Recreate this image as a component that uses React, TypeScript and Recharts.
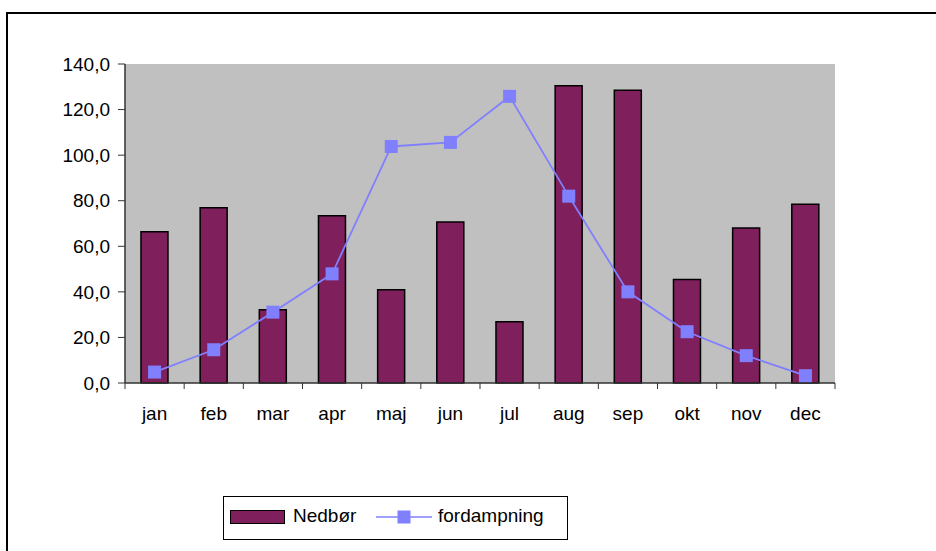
import React from 'react';
import {
  ComposedChart, Bar, Line, XAxis, YAxis, CartesianGrid,
} from 'recharts';

const months = ['jan', 'feb', 'mar', 'apr', 'maj', 'jun', 'jul', 'aug', 'sep', 'okt', 'nov', 'dec'];
const nedbor = [66.4, 76.9, 32.2, 73.4, 40.9, 70.7, 26.9, 130.4, 128.5, 45.4, 68.0, 78.5];
const fordampning = [4.8, 14.6, 31.1, 47.9, 103.8, 105.6, 125.8, 82.0, 40.0, 22.5, 12.0, 3.2];
const yTicks = [0, 20, 40, 60, 80, 100, 120, 140];

const data = months.map((m, i) => ({ month: m, nedbor: nedbor[i], fordampning: fordampning[i] }));

const W = 936;
const H = 551;
const M = { top: 64, right: 101, left: 0, bottom: 128 };
const Y_AXIS_W = 125;
const X_AXIS_H = 40;
const plotW = W - M.left - M.right - Y_AXIS_W;
const step = plotW / months.length;

const BAR = '#7f1f5c';
const LINE = '#8080ff';
const FONT = '"Liberation Sans", Arial, sans-serif';

// tick y arrives already pushed down by tickSize (6) + tickMargin (2)
const MonthTick = (props: any) => {
  const { x, y, payload, index } = props;
  const top = y - 8;
  return (
    <g>
      <line x1={x - step / 2} y1={top} x2={x - step / 2} y2={top + 6} stroke="#333" strokeWidth={1} />
      {index === months.length - 1 && (
        <line x1={x + step / 2} y1={top} x2={x + step / 2} y2={top + 6} stroke="#333" strokeWidth={1} />
      )}
      <text x={x} y={y + 29} textAnchor="middle" fontSize={19} fill="#000" fontFamily={FONT}>
        {payload.value}
      </text>
    </g>
  );
};

const SquareDot = (props: any) => {
  const { cx, cy, index } = props;
  if (cx == null || cy == null) return null;
  return <rect key={`sq-${index}`} x={cx - 6.5} y={cy - 6.5} width={13} height={13} fill={LINE} />;
};

export default function App() {
  return (
    <div style={{ position: 'absolute', left: 0, top: 0, width: W, height: H, overflow: 'hidden', background: '#fff' }}>
      <div style={{ position: 'absolute', left: 6, top: 12, width: W, height: H, border: '2px solid #000' }} />
      <div style={{ position: 'absolute', left: 0, top: 0 }}>
        <ComposedChart width={W} height={H} data={data} margin={M} barCategoryGap="27%">
          <CartesianGrid fill="#c0c0c0" horizontal={false} vertical={false} />
          <XAxis
            dataKey="month"
            height={X_AXIS_H}
            axisLine={{ stroke: '#333', strokeWidth: 1.5 }}
            tickLine={false}
            tick={<MonthTick />}
            interval={0}
          />
          <XAxis xAxisId="top" orientation="top" dataKey="month" height={0} tick={false} tickLine={false} axisLine={{ stroke: '#808080', strokeWidth: 1.5 }} />
          <YAxis
            domain={[0, 140]}
            ticks={yTicks}
            width={Y_AXIS_W}
            interval={0}
            tickFormatter={(v: number) => v.toFixed(1).replace('.', ',')}
            tick={{ fontSize: 19, fill: '#000', fontFamily: FONT }}
            tickSize={7}
            tickMargin={8}
            tickLine={{ stroke: '#333' }}
            axisLine={{ stroke: '#333', strokeWidth: 1.5 }}
          />
          <YAxis yAxisId="right" orientation="right" width={0} tick={false} tickLine={false} axisLine={{ stroke: '#808080', strokeWidth: 1.5 }} />
          <Bar dataKey="nedbor" fill={BAR} stroke="#000" strokeWidth={1.5} isAnimationActive={false} />
          <Line
            dataKey="fordampning"
            stroke={LINE}
            strokeWidth={1.8}
            dot={<SquareDot />}
            activeDot={false}
            isAnimationActive={false}
          />
        </ComposedChart>
      </div>
      <div
        style={{
          position: 'absolute', left: 223, top: 496, width: 345, height: 44, boxSizing: 'border-box',
          border: '1px solid #000', fontFamily: FONT, fontSize: 19, color: '#000',
        }}
      >
        <div style={{ position: 'absolute', left: 6, top: 13, width: 55, height: 14, boxSizing: 'border-box', background: BAR, border: '1.5px solid #000' }} />
        <span style={{ position: 'absolute', left: 69, top: 8 }}>Nedbør</span>
        <svg style={{ position: 'absolute', left: 152, top: 12 }} width={58} height={16}>
          <line x1={0} y1={8} x2={56} y2={8} stroke={LINE} strokeWidth={1.5} />
          <rect x={21.5} y={1.5} width={13} height={13} fill={LINE} />
        </svg>
        <span style={{ position: 'absolute', left: 214, top: 8 }}>fordampning</span>
      </div>
    </div>
  );
}
